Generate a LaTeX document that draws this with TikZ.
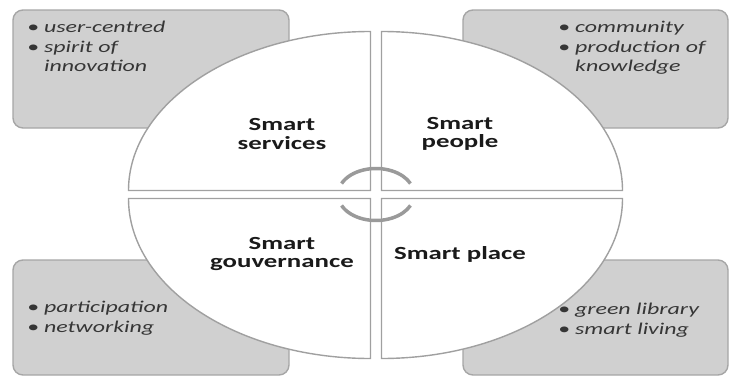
\documentclass[tikz,border=0pt]{standalone}
\usepackage{fontspec}
\setmainfont[FakeStretch=1.45]{Carlito}
\usepackage{tikz}
\usetikzlibrary{positioning, calc}
\definecolor{BoxFill}  {HTML}{D0D0D0}
\definecolor{BoxEdge}  {HTML}{A6A6A6}
\definecolor{RingEdge} {HTML}{A0A0A0}
\definecolor{CycleArc} {HTML}{9A9A9A}
\definecolor{ItemText} {HTML}{363636}
\definecolor{QuadText} {HTML}{1A1A1A}

\begin{document}
\begin{tikzpicture}[x=1pt, y=1pt,
    itembox/.style={fill=BoxFill, draw=BoxEdge, line width=1.4pt, rounded corners=10pt},
    quarter/.style={fill=white, draw=RingEdge, line width=1.4pt},
    cyclearc/.style={draw=CycleArc, line width=3.5pt},
    quadlabel/.style={align=center, inner sep=0pt, text=QuadText,
      font=\fontsize{18.5}{18.5}\selectfont\bfseries},
    itemlist/.style={anchor=north west, inner sep=0pt, align=left, text=ItemText,
      font=\fontsize{16.5}{19.5}\selectfont\itshape}]
  \useasboundingbox (0,0) rectangle (730,376);
  % grey boxes behind the ring
  \filldraw[itembox] (13,248) rectangle (289,366);
  \filldraw[itembox] (463,248) rectangle (728,366);
  \filldraw[itembox] (13,1) rectangle (289,116);
  \filldraw[itembox] (463,1) rectangle (728,116);
  % the four quarters
  \filldraw[quarter] (370.5,185.5) -- ++(-242,0)
    arc[start angle=180, end angle=90, x radius=242pt, y radius=159pt] -- cycle;
  \filldraw[quarter] (381.5,185.5) -- ++(241,0)
    arc[start angle=0, end angle=90, x radius=241pt, y radius=159pt] -- cycle;
  \filldraw[quarter] (370.5,177.5) -- ++(-242,0)
    arc[start angle=180, end angle=270, x radius=242pt, y radius=160pt] -- cycle;
  \filldraw[quarter] (381.5,177.5) -- ++(241,0)
    arc[start angle=0, end angle=-90, x radius=241pt, y radius=160pt] -- cycle;
  % cycle in the middle
  \coordinate (hub) at (376,181.5);
  \draw[cyclearc] (hub) ++(155:38pt and 26pt)
    arc[start angle=155, end angle=25, x radius=38pt, y radius=26pt];
  \draw[cyclearc] (hub) ++(205:38pt and 26pt)
    arc[start angle=205, end angle=335, x radius=38pt, y radius=26pt];
  % labels
  \node[quadlabel] (services)    at (282,242) {Smart\\services};
  \node[quadlabel] (people)      at (460,242) {Smart\\people};
  \node[quadlabel] (gouvernance) at (282,122) {Smart\\gouvernance};
  \node[quadlabel] (place)       at (460,122) {Smart place};
  \node[itemlist] (servicesitems) at (27,355)
    {\textbullet\hspace{5pt}user-centred\\\textbullet\hspace{5pt}spirit of\\\phantom{\textbullet\hspace{5pt}}innovation};
  \node[itemlist] (peopleitems) at (558,355)
    {\textbullet\hspace{5pt}community\\\textbullet\hspace{5pt}production of\\\phantom{\textbullet\hspace{5pt}}knowledge};
  \node[itemlist] (gouvernanceitems) at (27,75)
    {\textbullet\hspace{5pt}participation\\\textbullet\hspace{5pt}networking};
  \node[itemlist] (placeitems) at (558,73)
    {\textbullet\hspace{5pt}green library\\\textbullet\hspace{5pt}smart living};
\end{tikzpicture}
\end{document}
